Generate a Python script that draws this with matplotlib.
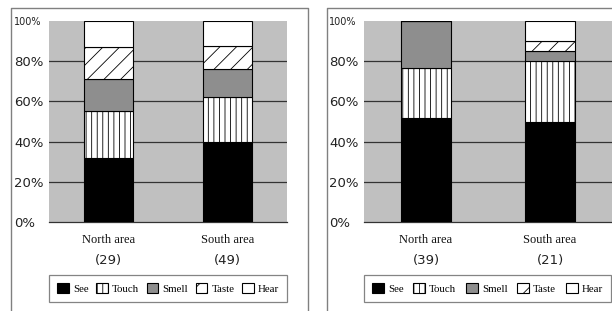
import matplotlib
matplotlib.use("Agg")
import matplotlib.pyplot as plt
from matplotlib.lines import Line2D
from matplotlib.transforms import blended_transform_factory
import numpy as np

categories = ["North area", "South area"]
senses = ["See", "Touch", "Smell", "Taste", "Hear"]

left_counts = [29, 49]
left_see = [31.6, 40.0]
left_touch = [23.4, 22.0]
left_smell = [15.9, 14.0]
left_taste = [16.4, 11.8]
left_hear = [12.7, 12.2]

right_counts = [39, 21]
right_see = [51.6, 49.6]
right_touch = [24.8, 30.7]
right_smell = [23.6, 5.0]
right_taste = [0.0, 4.8]
right_hear = [0.0, 9.9]

yticks = [0, 20, 40, 60, 80, 100]
ytick_labels = ["0%", "20%", "40%", "60%", "80%", "100%"]

styles = {
    "See": dict(facecolor="black", hatch=None),
    "Touch": dict(facecolor="white", hatch="|||"),
    "Smell": dict(facecolor="#8e8e8e", hatch=None),
    "Taste": dict(facecolor="white", hatch="//"),
    "Hear": dict(facecolor="white", hatch=None),
}

plt.rcParams["hatch.linewidth"] = 0.6
W, H = 612, 311
fig = plt.figure(figsize=(W / 100, H / 100), dpi=100)

sans = "DejaVu Sans"
serif = "Liberation Serif"


def px_axes(x0, x1, ytop, ybot):
    return [x0 / W, 1 - ybot / H, (x1 - x0) / W, (ybot - ytop) / H]


def draw_panel(rect, series, counts, legend_rect):
    ax = fig.add_axes(rect)
    ax.set_facecolor("#c0c0c0")
    x = np.arange(len(categories))
    bottom = np.zeros(len(categories))
    handles = []
    for name, vals in zip(senses, series):
        st = styles[name]
        bars = ax.bar(x, vals, 0.41, bottom=bottom, color=st["facecolor"],
                      hatch=st["hatch"], edgecolor="black", linewidth=0.8,
                      zorder=3, label=name)
        handles.append(bars)
        bottom = bottom + np.array(vals)
    ax.set_xlim(-0.5, 1.5)
    ax.set_ylim(0, 100)
    for yv in yticks[1:-1]:
        ax.axhline(yv, color="#333333", linewidth=0.9, zorder=2)
    for s in ["top", "right", "left"]:
        ax.spines[s].set_visible(False)
    ax.spines["bottom"].set_color("#333333")
    ax.spines["bottom"].set_linewidth(0.9)
    ax.set_xticks([])
    ax.set_yticks(yticks)
    ax.set_yticklabels(ytick_labels, ha="left", family=sans, fontsize=9.5,
                       color="#222222")
    ax.tick_params(axis="y", length=0, pad=25.0)
    ax.get_yticklabels()[-1].set_fontsize(7)
    tr = blended_transform_factory(ax.transData, ax.transAxes)
    for xi, cat, n in zip(x, categories, counts):
        ax.text(xi, -0.09, cat, transform=tr, ha="center", va="center",
                family=serif, fontsize=9, color="#111111")
        ax.text(xi, -0.19, f"({n})", transform=tr, ha="center", va="center",
                family=sans, fontsize=9.5, color="#222222")
    leg = fig.legend(handles=handles, labels=senses, loc="lower left",
                     bbox_to_anchor=legend_rect, mode="expand", ncol=5,
                     prop={"family": serif, "size": 7.8}, frameon=True,
                     fancybox=False, handlelength=1.1, handleheight=1.0,
                     handletextpad=0.35, columnspacing=0.6, borderpad=0.75,
                     borderaxespad=0)
    leg.get_frame().set_edgecolor("#666666")
    leg.get_frame().set_linewidth(0.9)
    return ax


draw_panel(px_axes(49, 287, 21, 222),
           [left_see, left_touch, left_smell, left_taste, left_hear],
           left_counts,
           (49 / W, 1 - 302 / H, 238 / W, 27 / H))
draw_panel(px_axes(364, 612, 21, 222),
           [right_see, right_touch, right_smell, right_taste, right_hear],
           right_counts,
           (364 / W, 1 - 302 / H, 247 / W, 27 / H))

# outer frames
fc = "#808080"
def fline(xs, ys):
    fig.add_artist(Line2D([v / W for v in xs], [1 - v / H for v in ys],
                          color=fc, linewidth=1.0))

fline([11, 11, 308, 308], [311, 8, 8, 311])
fline([327, 327, 612], [311, 8, 8])

fig.savefig("out.png", dpi=100)
